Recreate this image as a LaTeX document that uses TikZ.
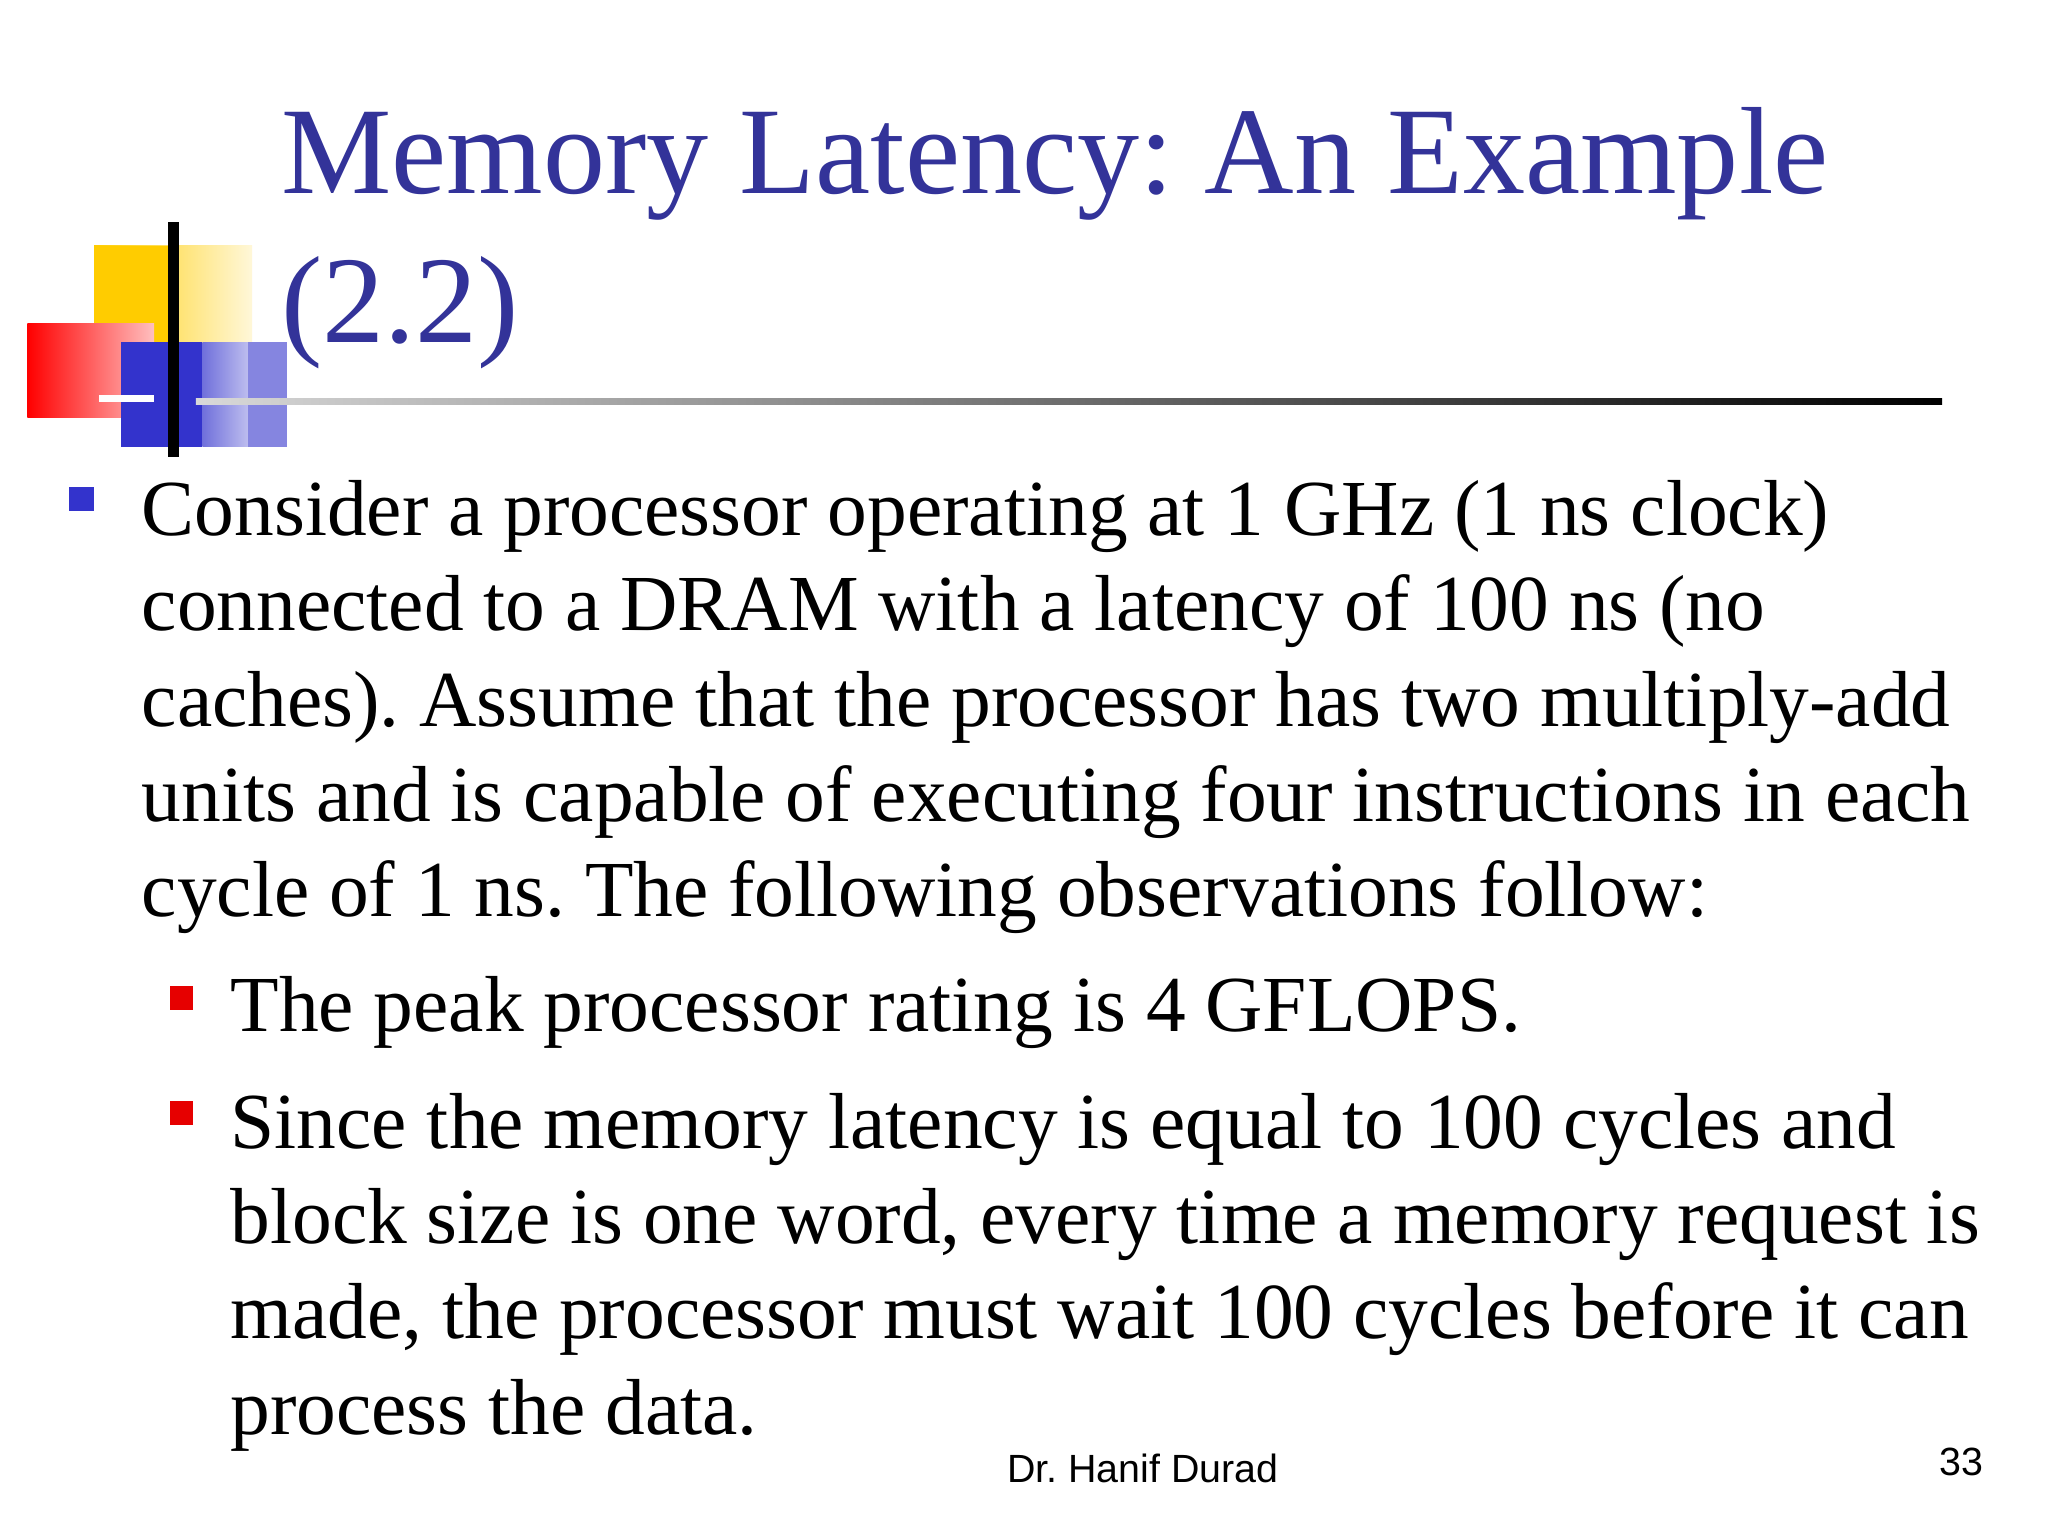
\documentclass[tikz,border=0pt]{standalone}
\usepackage{fontspec}
\setmainfont{Liberation Serif}
\newfontfamily\footfont{Liberation Sans}
\definecolor{titleblue}{RGB}{51,51,153}
\definecolor{bblue}{RGB}{51,51,204}
\definecolor{bred}{RGB}{230,0,0}
\definecolor{dyellow}{RGB}{255,204,0}
\frenchspacing
\begin{document}
\begin{tikzpicture}[x=0.01306cm,y=-0.01306cm,
  body/.style={anchor=base west,inner sep=0,font=\fontsize{22.6}{27}\selectfont},
  title/.style={anchor=base west,inner sep=0,text=titleblue,font=\fontsize{35.3}{42}\selectfont}]
\useasboundingbox[fill=white] (0,0) rectangle (1568,1176);
% decoration
\shade[left color=dyellow,right color=dyellow!15] (72,188) rectangle (193,262);
\fill[dyellow] (72,188) rectangle (132,262);
\shade[left color=red,right color=red!25] (21,248) rectangle (118,320);
\fill[bblue] (93,262) rectangle (155,342);
\shade[left color=bblue!70,right color=white] (155,262) rectangle (220,342);
\fill[bblue!60] (190,262) rectangle (220,342);
\draw[white,line width=2pt] (76,305) -- (118,305);
\draw[black,line width=3pt] (133,170) -- (133,350);
\shade[left color=black!15,right color=black] (150,305) rectangle (1487,310);
% title
\node[title] (t1) at (215,148) {Memory Latency: An Example};
\node[title] (t2) at (215,262) {(2.2)};
% bullets
\fill[bblue] (53,373) rectangle (72,391);
\fill[bred] (130,755) rectangle (148,773);
\fill[bred] (130,843) rectangle (148,861);
\node[body] (l1) at (108,410) {Consider a processor operating at 1 GHz (1 ns clock)};
\node[body] (l2) at (108,483) {connected to a DRAM with a latency of 100 ns (no};
\node[body] (l3) at (108,556) {caches). Assume that the processor has two multiply-add};
\node[body] (l4) at (108,629) {units and is capable of executing four instructions in each};
\node[body] (l5) at (108,702) {cycle of 1 ns. The following observations follow:};
\node[body] (s1) at (176,790) {The peak processor rating is 4 GFLOPS.};
\node[body] (s2) at (176,879) {Since the memory latency is equal to 100 cycles and};
\node[body] (s3) at (176,952) {block size is one word, every time a memory request is};
\node[body] (s4) at (176,1025) {made, the processor must wait 100 cycles before it can};
\node[body] (s5) at (176,1098) {process the data.};
\node[anchor=base,inner sep=0,font=\footfont\fontsize{11.2}{13}\selectfont] (f) at (875,1135) {Dr. Hanif Durad};
\node[anchor=base,inner sep=0,font=\footfont\fontsize{11.2}{13}\selectfont] (p) at (1502,1130) {33};
\end{tikzpicture}
\end{document}
